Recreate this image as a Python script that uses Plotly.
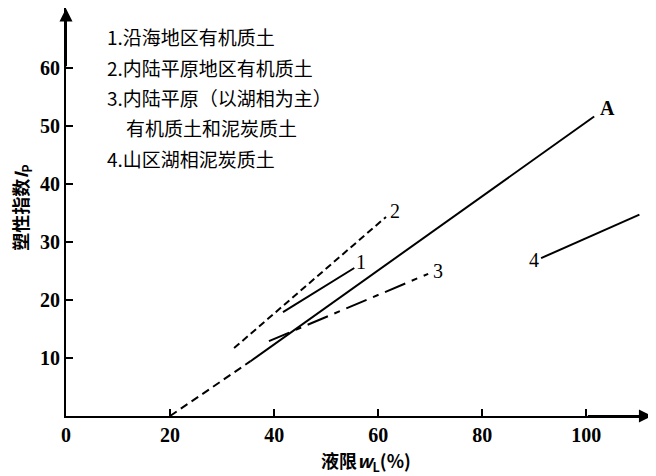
import plotly.graph_objects as go

# A线：虚线段 + 实线段
a_dash_x = [20, 35.4]
a_dash_y = [0, 9.4]
a_x = [35.4, 101.5]
a_y = [9.4, 51.6]

# 各类土的分布线
line1_x = [41.7, 55.4]
line1_y = [17.9, 25.5]
line2_x = [32.3, 61.5]
line2_y = [11.7, 34.3]
line3_x = [39.0, 69.6]
line3_y = [12.9, 24.5]
line4_x = [91.3, 110.2]
line4_y = [27.2, 34.7]

labels = ["1", "2", "3", "4", "A"]
label_x = [56.6, 63.2, 71.5, 90.0, 104.0]
label_y = [26.5, 35.3, 25.0, 26.9, 53.0]

legend_lines = [
    "1.沿海地区有机质土",
    "2.内陆平原地区有机质土",
    "3.内陆平原（以湖相为主）",
    "\u3000有机质土和泥炭质土",
    "4.山区湖相泥炭质土",
]

x_ticks = [0, 20, 40, 60, 80, 100]
y_ticks = [10, 20, 30, 40, 50, 60]

fig = go.Figure()

def seg(x, y, dash):
    fig.add_trace(go.Scatter(x=x, y=y, mode="lines",
                             line=dict(color="black", width=2, dash=dash),
                             showlegend=False, hoverinfo="skip"))

seg(a_dash_x, a_dash_y, "8px,5px")
seg(a_x, a_y, "solid")
seg(line1_x, line1_y, "solid")
seg(line2_x, line2_y, "7px,4px")
seg(line3_x, line3_y, "22px,7px,6px,7px")
seg(line4_x, line4_y, "solid")

for t, lx, ly in zip(labels, label_x, label_y):
    txt = "<b>" + t + "</b>" if t == "A" else t
    fig.add_annotation(x=lx, y=ly, text=txt, showarrow=False,
                       font=dict(family="Liberation Serif", size=20, color="black"))

cjk = "Noto Sans CJK SC"
for i, s in enumerate(legend_lines):
    fig.add_annotation(xref="paper", yref="paper", x=0.066, y=0.929 - i * 0.0742,
                       xanchor="left", yanchor="middle", text=s, showarrow=False,
                       font=dict(family=cjk, size=19, color="black"))

# 坐标轴箭头
fig.add_annotation(x=112.6, y=0, ax=100, ay=0, xref="x", yref="y", axref="x", ayref="y",
                   text="", showarrow=True, arrowhead=2, arrowsize=1.3, arrowwidth=2,
                   arrowcolor="black")
fig.add_annotation(x=0, y=70.2, ax=0, ay=60, xref="x", yref="y", axref="x", ayref="y",
                   text="", showarrow=True, arrowhead=2, arrowsize=1.3, arrowwidth=2,
                   arrowcolor="black")

# 坐标轴标题
fig.add_annotation(xref="paper", yref="paper", x=0.51, y=-0.112, yanchor="middle",
                   text="<b>液限<i>w</i><sub>L</sub>(%)</b>", showarrow=False,
                   font=dict(family=cjk, size=18, color="black"))
fig.add_annotation(xref="paper", yref="paper", x=-0.075, y=0.51, textangle=-90,
                   xanchor="center", yanchor="middle",
                   text="<b>塑性指数<i>I</i><sub>P</sub></b>", showarrow=False,
                   font=dict(family=cjk, size=18, color="black"))

tickfont = dict(family="Liberation Serif", size=20, color="black", weight="bold")
fig.update_xaxes(range=[0, 113], tickvals=x_ticks, ticks="inside", ticklen=7,
                 tickcolor="black", tickwidth=1.5, showline=True, linecolor="black",
                 linewidth=2, showgrid=False, zeroline=False, tickfont=tickfont,
                 automargin=False)
fig.update_yaxes(range=[0, 70.3], tickvals=y_ticks, ticks="inside", ticklen=7,
                 tickcolor="black", tickwidth=1.5, showline=True, linecolor="black",
                 linewidth=2, showgrid=False, zeroline=False, tickfont=tickfont,
                 automargin=False)

# 页面自带约8px边距，整体尺寸相应缩小
fig.update_layout(width=648, height=468, margin=dict(l=58, r=2, t=0, b=60),
                  plot_bgcolor="white", paper_bgcolor="white")

fig.write_html("out.html")
